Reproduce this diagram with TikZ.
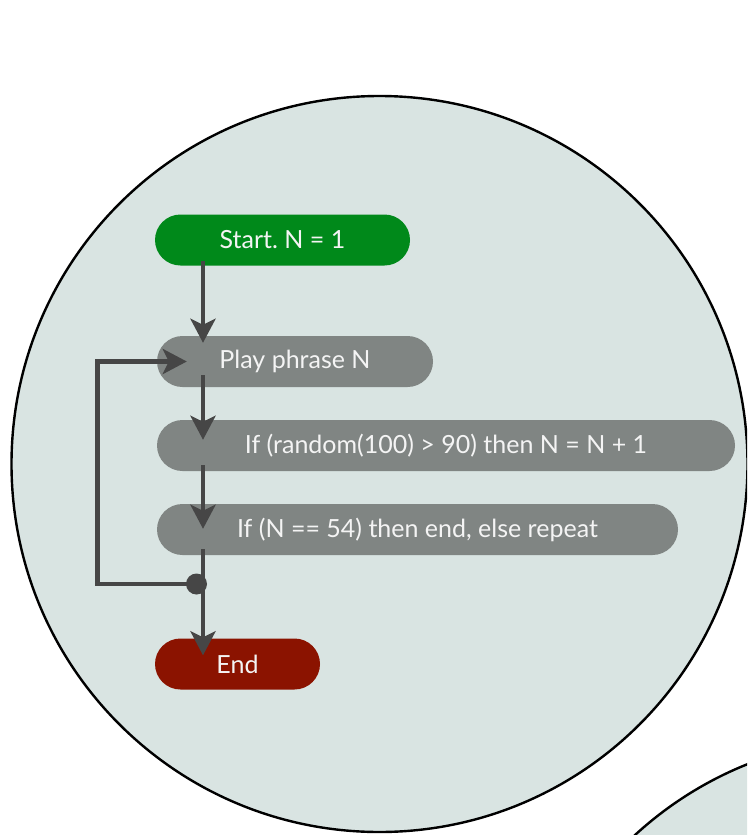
\documentclass[tikz,border=0pt]{standalone}
\usepackage{fontspec}
\setmainfont{Lato}
\usetikzlibrary{arrows.meta,calc}
\definecolor{bubble}{HTML}{D9E4E2}
\definecolor{startgreen}{HTML}{00891A}
\definecolor{stepgray}{HTML}{808583}
\definecolor{endred}{HTML}{8B1300}
\definecolor{flowline}{HTML}{464646}
\definecolor{pilltext}{HTML}{F4F4F4}
\begin{document}
\frenchspacing
\begin{tikzpicture}[x=1pt,y=-1pt,
  pill/.style={rounded corners=25.5pt, minimum height=51pt, inner sep=0pt,
    text=pilltext, font=\fontsize{25}{30}\selectfont},
  stepbox/.style={pill, fill=stepgray},
  flow/.style={draw=flowline, line width=4.5pt,
    -{Stealth[length=24pt, width=25pt, inset=6pt]}},
  bubbleline/.style={draw=black, line width=2.4pt, fill=bubble}]

  \useasboundingbox (0,0) rectangle (747,835);
  \clip (0,0) rectangle (747,835);

  % background bubbles
  \path[bubbleline] (379.5,464) circle[radius=368pt];
  \path[bubbleline] (884,1106) circle[radius=368pt];

  % flowchart boxes
  \node[pill, fill=startgreen, minimum width=255pt] (start) at (282.5,240) {Start. N = 1};
  \node[stepbox, minimum width=276pt] (play)  at (295,361.5) {Play phrase N};
  \node[stepbox, minimum width=578pt] (rand)  at (446,445.5) {If (random(100) > 90) then N = N + 1};
  \node[stepbox, minimum width=521pt] (check) at (417.5,529.5) {If (N == 54) then end, else repeat};
  \node[pill, fill=endred, minimum width=165pt] (stop) at (237.5,664) {End};

  % guide lines for the connectors
  \coordinate (spine) at (203,0);
  \coordinate (loopx) at (97.5,0);

  % main flow
  \draw[flow] ($(start.south -| spine)+(0,-5)$) -- ($(play.north -| spine)+(0,7)$);
  \draw[flow] ($(play.south -| spine)+(0,-12)$) -- ($(rand.north -| spine)+(0,20)$);
  \draw[flow] ($(rand.south -| spine)+(0,-6)$) -- ($(check.north -| spine)+(0,25)$);
  \draw[flow] ($(check.south -| spine)+(0,-6)$) -- ($(stop.north -| spine)+(0,17)$);

  % repeat loop
  \node[circle, fill=flowline, minimum size=21pt, inner sep=0pt] (join) at (196.5,584) {};
  \draw[flow] (join.center) -- (join.center -| loopx) |- ($(play.west)+(30,0)$);
\end{tikzpicture}
\end{document}
